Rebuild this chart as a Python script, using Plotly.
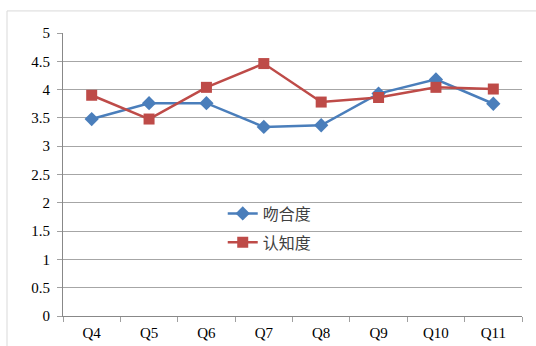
import plotly.graph_objects as go

categories = ["Q4", "Q5", "Q6", "Q7", "Q8", "Q9", "Q10", "Q11"]
fit_values = [3.48, 3.76, 3.76, 3.34, 3.37, 3.93, 4.18, 3.75]
know_values = [3.90, 3.48, 4.04, 4.46, 3.78, 3.86, 4.04, 4.01]
y_ticks = [0, 0.5, 1, 1.5, 2, 2.5, 3, 3.5, 4, 4.5, 5]
y_tick_text = ["0", "0.5", "1", "1.5", "2", "2.5", "3", "3.5", "4", "4.5", "5"]

blue = "#4a7ebb"
red = "#be4b48"
serif = "Liberation Serif"
cjk = "Noto Sans CJK SC"

fig = go.Figure()
fig.add_trace(go.Scatter(
    x=categories, y=fit_values, name="吻合度", mode="lines+markers",
    line=dict(color=blue, width=2.5),
    marker=dict(symbol="diamond", size=11, color=blue),
    legend="legend",
))
fig.add_trace(go.Scatter(
    x=categories, y=know_values, name="认知度", mode="lines+markers",
    line=dict(color=red, width=2.5),
    marker=dict(symbol="square", size=11, color=red),
    legend="legend2",
))

legend_common = dict(
    bgcolor="rgba(0,0,0,0)", borderwidth=0,
    font=dict(family=cjk, size=16, color="#404040"),
    xanchor="left", yanchor="middle", itemwidth=30,
)

fig.update_layout(
    width=536, height=346,
    margin=dict(l=63, r=14, t=33, b=30),
    paper_bgcolor="white", plot_bgcolor="white",
    showlegend=True,
    legend=dict(x=0.348, y=0.362, **legend_common),
    legend2=dict(x=0.348, y=0.26, **legend_common),
    xaxis=dict(
        type="category", range=[-0.5, 7.5], automargin=False,
        showline=True, linecolor="#888888", linewidth=1,
        ticks="outside", tickson="boundaries", ticklen=5, tickcolor="#a0a0a0",
        showgrid=False,
        tickfont=dict(family=serif, size=15, color="#000000"),
        ticklabelstandoff=3,
        fixedrange=True,
    ),
    yaxis=dict(
        range=[0, 5], tickvals=y_ticks, ticktext=y_tick_text, automargin=False,
        showline=True, linecolor="#888888", linewidth=1,
        ticks="outside", ticklen=5, tickcolor="#a0a0a0",
        showgrid=True, gridcolor="#a6a6a6", gridwidth=1,
        zeroline=False,
        tickfont=dict(family=serif, size=15, color="#000000"),
        ticklabelstandoff=4,
    ),
    shapes=[dict(
        type="rect", xref="paper", yref="paper",
        x0=-0.122, x1=1.2, y0=-0.3, y1=1.078,
        line=dict(color="#d9d9d9", width=1), fillcolor="rgba(0,0,0,0)",
        layer="below",
    )],
)

fig.write_html("out.html")
